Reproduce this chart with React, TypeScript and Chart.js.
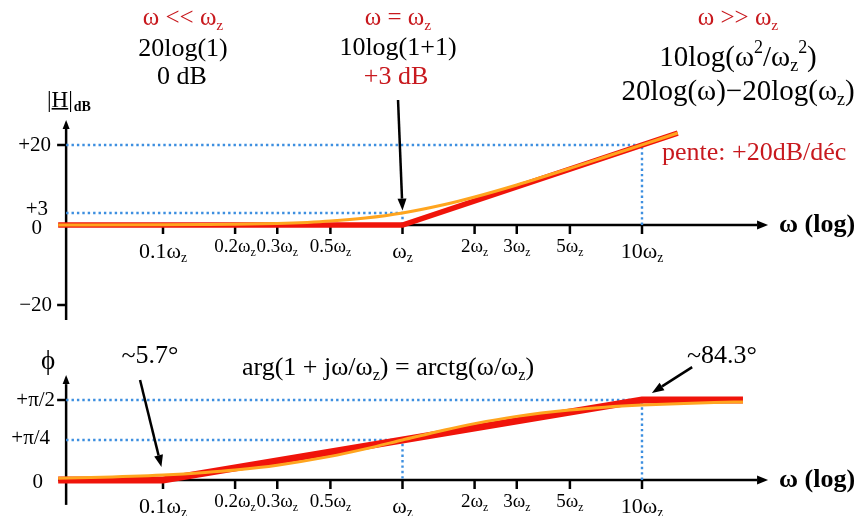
import React, { useEffect, useRef } from "react";
import { Chart, registerables } from "chart.js";

Chart.register(...registerables);

// ---------------- data ----------------
const magOmega = [0.0365, 0.1, 0.15, 0.2, 0.3, 0.4, 0.5, 0.7, 1, 1.5, 2, 3, 5, 7, 10, 14.1];
const magActual = [0.01, 0.04, 0.1, 0.17, 0.37, 0.64, 0.97, 1.74, 3.01, 5.12, 6.99, 10.0, 14.15, 17.0, 20.04, 22.99];
const magAsymOmega = [0.0365, 1, 14.1];
const magAsym = [0, 0, 22.98];

const phaseOmega = [0.0365, 0.05, 0.1, 0.15, 0.2, 0.3, 0.5, 0.7, 1, 1.5, 2, 3, 5, 7, 10, 15, 20, 26.4];
const phaseActual = [2.09, 2.86, 5.71, 8.53, 11.31, 16.7, 26.57, 34.99, 45, 56.31, 63.43, 71.57, 78.69, 81.87, 84.29, 86.19, 87.14, 87.83];
const phaseAsymOmega = [0.0365, 0.1, 10, 26.4];
const phaseAsym = [0, 0, 90, 90];

const xTickValues = [0.1, 0.2, 0.3, 0.5, 1, 2, 3, 5, 10];
const xTickLabels = ["0.1ω_z", "0.2ω_z", "0.3ω_z", "0.5ω_z", "ω_z", "2ω_z", "3ω_z", "5ω_z", "10ω_z"];
const xTickMajor = [true, false, false, false, true, false, false, false, true];

const magTickValues = [20, 3, 0, -20];
const magTickLabels = ["+20", "+3", "0", "−20"];
const magTickMarks = [20, -20];
const phaseTickValues = [90, 45, 0];
const phaseTickLabels = ["+π/2", "+π/4", "0"];
const phaseTickMarks = [90];

const magGuideLevels = [20, 3];
const magGuideOmega = [10, 1];
const phaseGuideLevels = [90, 45];
const phaseGuideOmega = [10, 1];

// scale / axis extents
const X_MIN = 0.020865;
const X_MAX = 82.91;
const MAG_MIN = -72.75;
const MAG_MAX = 56.25;
const PH_MIN = -40.5;
const PH_MAX = 540;
const Y_AXIS_OMEGA = 0.0394;
const X_AXIS_FROM = 0.0365;
const X_AXIS_TO = 33.6;
const MAG_AXIS_RANGE = [-23.75, 26.25];
const PH_AXIS_RANGE = [-28, 118];

// arrows in data coordinates
const arrowPanels = ["mag", "ph", "ph"];
const arrowFrom = [[0.958, 31.25], [0.0802, 112.5], [16.2, 127]];
const arrowTo = [[1, 3.6], [0.0985, 14.6], [11.0, 98]];

// ---------------- styles ----------------
const RED = "#f0140a";
const ORANGE = "#ffa51f";
const TEXT_RED = "#c8191e";
const BLUE = "#3d8fe0";
const FONT = '"Liberation Serif", "Times New Roman", serif';

type Seg = { t: string; s?: "sub" | "sup" };
function parseRich(str: string): Seg[] {
  const segs: Seg[] = [];
  let buf = "";
  for (let i = 0; i < str.length; i++) {
    const c = str[i];
    if ((c === "_" || c === "^") && i + 1 < str.length) {
      if (buf) { segs.push({ t: buf }); buf = ""; }
      let t: string;
      if (str[i + 1] === "{") {
        const j = str.indexOf("}", i + 2);
        t = str.slice(i + 2, j);
        i = j;
      } else {
        t = str[i + 1];
        i++;
      }
      segs.push({ t, s: c === "_" ? "sub" : "sup" });
    } else buf += c;
  }
  if (buf) segs.push({ t: buf });
  return segs;
}

function drawRich(
  ctx: CanvasRenderingContext2D, str: string, x: number, y: number, size: number,
  color = "#000", align: "left" | "center" | "right" = "center", bold = false
) {
  const segs = parseRich(str);
  const small = size * 0.62;
  const font = (sz: number) => `${bold ? "bold " : ""}${sz}px ${FONT}`;
  let total = 0;
  const widths = segs.map((sg) => {
    ctx.font = font(sg.s ? small : size);
    const w = ctx.measureText(sg.t).width;
    total += w;
    return w;
  });
  let cx = align === "left" ? x : align === "center" ? x - total / 2 : x - total;
  ctx.fillStyle = color;
  ctx.textBaseline = "middle";
  ctx.textAlign = "left";
  segs.forEach((sg, i) => {
    ctx.font = font(sg.s ? small : size);
    const dy = sg.s === "sub" ? size * 0.3 : sg.s === "sup" ? -size * 0.33 : 0;
    ctx.fillText(sg.t, cx, y + dy);
    cx += widths[i];
  });
}

function arrow(ctx: CanvasRenderingContext2D, x1: number, y1: number, x2: number, y2: number, head = 11, hw = 4.5, lw = 2.5) {
  const a = Math.atan2(y2 - y1, x2 - x1);
  const bx = x2 - head * Math.cos(a);
  const by = y2 - head * Math.sin(a);
  ctx.lineWidth = lw;
  ctx.beginPath();
  ctx.moveTo(x1, y1);
  ctx.lineTo(bx, by);
  ctx.stroke();
  ctx.beginPath();
  ctx.moveTo(x2, y2);
  ctx.lineTo(bx + hw * Math.sin(a), by - hw * Math.cos(a));
  ctx.lineTo(bx - hw * Math.sin(a), by + hw * Math.cos(a));
  ctx.closePath();
  ctx.fill();
}

const notes: { t: string; x: number; y: number; size: number; color?: string; align?: "left" | "center" | "right"; bold?: boolean }[] = [
  { t: "ω << ω_z", x: 183, y: 18, size: 25, color: TEXT_RED },
  { t: "20log(1)", x: 183, y: 49, size: 26 },
  { t: "0 dB", x: 182, y: 77, size: 26 },
  { t: "ω = ω_z", x: 398, y: 18, size: 25, color: TEXT_RED },
  { t: "10log(1+1)", x: 398, y: 48, size: 26 },
  { t: "+3 dB", x: 396, y: 77, size: 26, color: TEXT_RED },
  { t: "ω >> ω_z", x: 738, y: 18, size: 25, color: TEXT_RED },
  { t: "10log(ω^2/ω_z^2)", x: 738, y: 58, size: 29 },
  { t: "20log(ω)−20log(ω_z)", x: 738, y: 92, size: 29 },
  { t: "pente: +20dB/déc", x: 662, y: 153, size: 26, color: TEXT_RED, align: "left" },
  { t: "~5.7°", x: 150, y: 356, size: 26 },
  { t: "arg(1 + jω/ω_z) = arctg(ω/ω_z)", x: 388, y: 368, size: 26 },
  { t: "~84.3°", x: 722, y: 356, size: 26 },
  { t: "ϕ", x: 48, y: 362, size: 27 },
  { t: "ω (log)", x: 779, y: 225, size: 26, align: "left", bold: true },
  { t: "ω (log)", x: 779, y: 480, size: 26, align: "left", bold: true },
];

const magLabelDx = [-15, -18, -24, -14];
const magLabelDy = [0, -4, 3, 0];
const phLabelDx = [-11, -16, -23];
const phLabelDy = [0, -2, 2];

const bodePlugin = {
  id: "bode",
  beforeDatasetsDraw(chart: any) {
    const { ctx } = chart;
    const x = chart.scales.x;
    const panels = [
      { y: chart.scales.yMag, range: MAG_AXIS_RANGE, marks: magTickMarks },
      { y: chart.scales.yPh, range: PH_AXIS_RANGE, marks: phaseTickMarks },
    ];
    ctx.save();
    ctx.strokeStyle = "#000";
    ctx.fillStyle = "#000";
    ctx.lineCap = "butt";
    const x0 = x.getPixelForValue(Y_AXIS_OMEGA);
    panels.forEach((p) => {
      const y0 = p.y.getPixelForValue(0);
      arrow(ctx, x0, p.y.getPixelForValue(p.range[0]), x0, p.y.getPixelForValue(p.range[1]), 9, 3.5, 2.5);
      arrow(ctx, x.getPixelForValue(X_AXIS_FROM), y0, x.getPixelForValue(X_AXIS_TO), y0, 11, 4.5, 2.5);
      ctx.lineWidth = 2.5;
      xTickValues.forEach((v) => {
        const px = x.getPixelForValue(v);
        ctx.beginPath();
        ctx.moveTo(px, y0);
        ctx.lineTo(px, y0 + 9);
        ctx.stroke();
      });
      p.marks.forEach((v) => {
        const py = p.y.getPixelForValue(v);
        ctx.beginPath();
        ctx.moveTo(x0 - 9, py);
        ctx.lineTo(x0, py);
        ctx.stroke();
      });
    });
    ctx.restore();
  },
  afterDatasetsDraw(chart: any) {
    const { ctx } = chart;
    const x = chart.scales.x;
    const yMag = chart.scales.yMag;
    const yPh = chart.scales.yPh;
    ctx.save();
    const x0 = x.getPixelForValue(Y_AXIS_OMEGA);
    [yMag, yPh].forEach((ys: any, k: number) => {
      const y0 = ys.getPixelForValue(0);
      xTickValues.forEach((v, i) => {
        const major = xTickMajor[i];
        const dy = k === 0 ? (major ? 27 : 22) : (major ? 27 : 22);
        drawRich(ctx, xTickLabels[i], x.getPixelForValue(v), y0 + dy, major ? 22 : 19);
      });
    });
    magTickValues.forEach((v, i) => {
      drawRich(ctx, magTickLabels[i], x0 + magLabelDx[i], yMag.getPixelForValue(v) + magLabelDy[i], 21, "#000", "right");
    });
    phaseTickValues.forEach((v, i) => {
      drawRich(ctx, phaseTickLabels[i], x0 + phLabelDx[i], yPh.getPixelForValue(v) + phLabelDy[i], 21, "#000", "right");
    });
    // |H|dB label
    ctx.fillStyle = "#000";
    ctx.textBaseline = "middle";
    ctx.textAlign = "left";
    ctx.font = `23px ${FONT}`;
    let lx = 47;
    const ly = 101;
    const wBar = ctx.measureText("|").width;
    ctx.fillText("|", lx, ly);
    lx += wBar;
    const wH = ctx.measureText("H").width;
    ctx.fillText("H", lx, ly);
    ctx.fillRect(lx, ly + 7, wH, 1.6);
    lx += wH;
    ctx.fillText("|", lx, ly);
    lx += wBar + 1;
    ctx.font = `bold 14px ${FONT}`;
    ctx.fillText("dB", lx, ly + 6);
    notes.forEach((n) => drawRich(ctx, n.t, n.x, n.y, n.size, n.color || "#000", n.align || "center", !!n.bold));
    ctx.strokeStyle = "#000";
    ctx.fillStyle = "#000";
    arrowPanels.forEach((p, i) => {
      const ys = p === "mag" ? yMag : yPh;
      arrow(
        ctx,
        x.getPixelForValue(arrowFrom[i][0]), ys.getPixelForValue(arrowFrom[i][1]),
        x.getPixelForValue(arrowTo[i][0]), ys.getPixelForValue(arrowTo[i][1]),
        12, 4.5, 2.5
      );
    });
    ctx.restore();
  },
};

function pts(xs: number[], ys: number[]) {
  return xs.map((v, i) => ({ x: v, y: ys[i] }));
}
function guide(level: number, omega: number) {
  return [
    { x: Y_AXIS_OMEGA, y: level },
    { x: omega, y: level },
    { x: omega, y: 0 },
  ];
}

export default function App() {
  const ref = useRef<HTMLCanvasElement | null>(null);
  useEffect(() => {
    if (!ref.current) return;
    const guideStyle = {
      borderColor: BLUE,
      borderWidth: 2.4,
      borderDash: [2.4, 3],
      pointRadius: 0,
      tension: 0,
      fill: false,
    };
    const datasets: any[] = [
      { data: pts(magOmega, magActual), yAxisID: "yMag", borderColor: ORANGE, borderWidth: 3, pointRadius: 0, cubicInterpolationMode: "monotone", fill: false },
      { data: pts(phaseOmega, phaseActual), yAxisID: "yPh", borderColor: ORANGE, borderWidth: 3, pointRadius: 0, cubicInterpolationMode: "monotone", fill: false },
      { data: pts(magAsymOmega, magAsym), yAxisID: "yMag", borderColor: RED, borderWidth: 5.5, pointRadius: 0, tension: 0, fill: false },
      { data: pts(phaseAsymOmega, phaseAsym), yAxisID: "yPh", borderColor: RED, borderWidth: 7, pointRadius: 0, tension: 0, fill: false },
      ...magGuideLevels.map((l, i) => ({ ...guideStyle, data: guide(l, magGuideOmega[i]), yAxisID: "yMag" })),
      ...phaseGuideLevels.map((l, i) => ({ ...guideStyle, data: guide(l, phaseGuideOmega[i]), yAxisID: "yPh" })),
    ];
    const chart = new Chart(ref.current, {
      type: "line",
      data: { datasets },
      options: {
        animation: false,
        responsive: false,
        maintainAspectRatio: false,
        devicePixelRatio: 1,
        layout: { padding: 0 },
        plugins: { legend: { display: false }, tooltip: { enabled: false }, title: { display: false } },
        events: [],
        scales: {
          x: { type: "logarithmic", min: X_MIN, max: X_MAX, display: false },
          yMag: { type: "linear", min: MAG_MIN, max: MAG_MAX, display: false },
          yPh: { type: "linear", min: PH_MIN, max: PH_MAX, display: false },
        },
      },
      plugins: [bodePlugin],
    } as any);
    return () => chart.destroy();
  }, []);
  return (
    <div style={{ position: "absolute", left: 0, top: 0, width: 862, height: 516, background: "#fff" }}>
      <canvas ref={ref} width={862} height={516} />
    </div>
  );
}
